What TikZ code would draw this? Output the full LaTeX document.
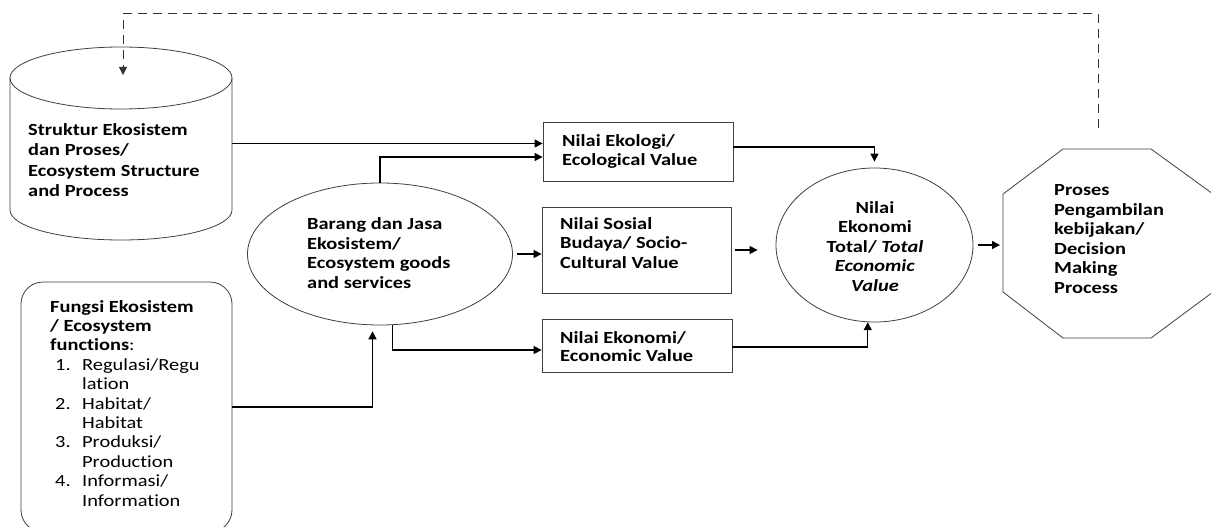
\documentclass[tikz,border=0pt]{standalone}
\usepackage{fontspec}
\setmainfont{Carlito}[FakeStretch=1.2, Ligatures=NoCommon]
\usetikzlibrary{arrows.meta,shapes.geometric}
\begin{document}
\begin{tikzpicture}[x=1pt,y=-1pt,
  shapeline/.style={draw=black!75, line width=0.8pt},
  boxnode/.style={shapeline, rectangle, inner sep=0pt},
  blank/.style={inner sep=0pt, outer sep=0pt},
  conn/.style={line width=1.3pt, -{Triangle[length=8pt,width=8pt]}},
  fb/.style={font=\fontsize{17}{19.5}\selectfont\bfseries, align=left, inner sep=0pt, anchor=base west},
  fbc/.style={font=\fontsize{17}{19.5}\selectfont\bfseries, align=center, inner sep=0pt, anchor=base}
]
\useasboundingbox (0,0) rectangle (1211,527);
\fill[white] (0,0) rectangle (1211,527);

% ---- shapes ----
\node[blank, minimum width=222pt, minimum height=193pt] (cyl) at (121,143.5) {};
\draw[shapeline] (121,78) ellipse [x radius=111, y radius=31];
\draw[shapeline] (10,78) -- (10,210) arc[start angle=180, end angle=0, x radius=111, y radius=30] -- (232,78);

\node[shapeline, rectangle, rounded corners=22pt, minimum width=211pt, minimum height=250pt] (fg) at (126.5,407) {};

\node[shapeline, ellipse, minimum width=265pt, minimum height=142pt, inner sep=0pt] (bj) at (380,254) {};

\node[boxnode, minimum width=190pt, minimum height=59pt] (eco) at (638,151.5) {};
\node[boxnode, minimum width=189pt, minimum height=86pt] (sos) at (636.5,250) {};
\node[boxnode, minimum width=190pt, minimum height=53pt] (eko) at (637,345.5) {};

\node[shapeline, ellipse, minimum width=197pt, minimum height=154pt, inner sep=0pt] (tev) at (874.5,245) {};

\node[blank, minimum width=210pt, minimum height=189pt] (dm) at (1108,243.5) {};
\draw[shapeline] (1063,149) -- (1151,149) -- (1213,194) -- (1213,292) -- (1151,338) -- (1063,338) -- (1003,292) -- (1003,194) -- cycle;

% ---- texts (anchor = baseline of last line) ----
\node[fb, font=\fontsize{17}{20.5}\selectfont\bfseries] (tcyl) at (28,196.5) {Struktur Ekosistem\\dan Proses/\\Ecosystem Structure\\and Process};
\node[fb] (tbj) at (307,288) {Barang dan Jasa\\Ekosistem/\\Ecosystem goods\\and services};
\node[fb, font=\fontsize{17}{18.5}\selectfont\bfseries] (teco) at (562,165) {Nilai Ekologi/\\Ecological Value};
\node[fb] (tsos) at (560,268) {Nilai Sosial\\Budaya/ Socio-\\Cultural Value};
\node[fb, font=\fontsize{17}{18.5}\selectfont\bfseries] (teko) at (560,361.5) {Nilai Ekonomi/\\Economic Value};
\node[fbc] (ttev) at (875,291) {Nilai\\Ekonomi\\Total/ \textit{Total}\\\textit{Economic}\\\textit{Value}};
\node[fb] (tdm) at (1054,293) {Proses\\Pengambilan\\kebijakan/\\Decision\\Making\\Process};
\node[fb, font=\fontsize{17}{19.4}\selectfont\bfseries] (tfg) at (50,506) {Fungsi Ekosistem\\/ Ecosystem\\functions\mdseries:\\
 \mdseries\hspace*{5pt}\makebox[27pt][l]{1.}Regulasi/Regu\\
 \mdseries\hspace*{32pt}lation\\
 \mdseries\hspace*{5pt}\makebox[27pt][l]{2.}Habitat/\\
 \mdseries\hspace*{32pt}Habitat\\
 \mdseries\hspace*{5pt}\makebox[27pt][l]{3.}Produksi/\\
 \mdseries\hspace*{32pt}Production\\
 \mdseries\hspace*{5pt}\makebox[27pt][l]{4.}Informasi/\\
 \mdseries\hspace*{32pt}Information};

% ---- connectors ----
\draw[conn] (cyl.east) -- (cyl.east -| eco.west);
\draw[conn] (bj.north) |- ([yshift=-5.5pt]eco.west);
\draw[conn, shorten <=4pt] (bj.east) -- (bj.east -| sos.west);
\draw[conn] (bj.-80) |- ([yshift=-4.5pt]eko.west);
\draw[conn, shorten >=6pt] (fg.east) -| (bj.-96);
\draw[conn, shorten >=6pt] ([yshift=4.5pt]eco.east) -| (tev.north);
\draw[conn, shorten <=4pt, shorten >=18pt] (sos.east) -- (sos.east -| tev.west);
\draw[conn] ([yshift=-1.5pt]eko.east) -| (tev.-95);
\draw[conn, shorten <=5pt, shorten >=3pt] (tev.east) -- (tev.east -| dm.west);

\coordinate (dmtop) at (1098,128);
\coordinate (cyltip) at (123,75);
\draw[line width=1pt, draw=black!80, dash pattern=on 9pt off 6pt, -{Triangle[length=8pt,width=8pt]}]
  (dmtop) -- ++(0,-114) -| (cyltip);
\end{tikzpicture}
\end{document}
